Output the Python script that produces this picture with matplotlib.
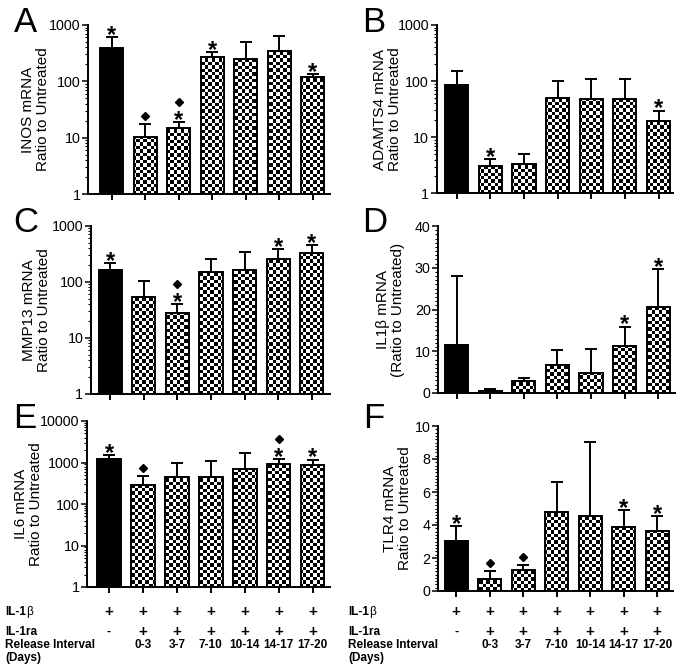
import numpy as np
import matplotlib
matplotlib.use('Agg')
import matplotlib.pyplot as plt
from matplotlib import transforms
from matplotlib.ticker import LogLocator, MultipleLocator, FuncFormatter, NullFormatter

plt.rcParams['font.family'] = ['Liberation Sans', 'DejaVu Sans']

# ---------------- data ----------------
intervals = ['', '0-3', '3-7', '7-10', '10-14', '14-17', '17-20']
il1b_row = ['+', '+', '+', '+', '+', '+', '+']
il1ra_row = ['-', '+', '+', '+', '+', '+', '+']

inos_mean = [396, 10.3, 14.6, 267, 249, 350, 121]
inos_err = [225, 7.4, 4.6, 69, 257, 297, 14]
inos_star = [1, 0, 1, 1, 0, 0, 1]
inos_diam = [0, 1, 1, 0, 0, 0, 0]

adamts4_mean = [85, 3.12, 3.34, 50.3, 47.7, 48.4, 19.8]
adamts4_err = [66, 1.0, 1.63, 50.7, 61.3, 60.6, 10.1]
adamts4_star = [0, 1, 0, 0, 0, 0, 1]
adamts4_diam = [0, 0, 0, 0, 0, 0, 0]

mmp13_mean = [161, 52.5, 27.9, 151, 161, 254, 330]
mmp13_err = [57, 48.5, 12.0, 100, 173, 124, 128]
mmp13_star = [1, 0, 1, 0, 0, 1, 1]
mmp13_diam = [0, 0, 1, 0, 0, 0, 0]

il1b_mean = [11.55, 0.56, 2.79, 6.61, 4.86, 11.3, 20.6]
il1b_err = [16.5, 0.4, 0.88, 3.6, 5.64, 4.6, 9.1]
il1b_star = [0, 0, 0, 0, 0, 1, 1]
il1b_diam = [0, 0, 0, 0, 0, 0, 0]

il6_mean = [1202, 291, 445, 445, 692, 929, 847]
il6_err = [326, 188, 519, 672, 1014, 296, 333]
il6_star = [1, 0, 0, 0, 0, 1, 1]
il6_diam = [0, 1, 0, 0, 0, 1, 0]

tlr4_mean = [3.06, 0.74, 1.27, 4.77, 4.53, 3.86, 3.62]
tlr4_err = [0.9, 0.47, 0.28, 1.81, 4.52, 1.05, 0.91]
tlr4_star = [1, 0, 0, 0, 0, 1, 1]
tlr4_diam = [0, 1, 1, 0, 0, 0, 0]

# ---------------- figure ----------------
W, H = 685, 671
fig = plt.figure(figsize=(W / 100, H / 100), dpi=100)

LW = 1.4


def add_panel(box, xlim, mean, err, star, diam, scale, ylim, ylabel,
              letter, letter_xy, label_dx):
    l, r, t, b = box
    ax = fig.add_axes([l / W, 1 - b / H, (r - l) / W, (b - t) / H])
    ax.set_yscale(scale)
    ax.set_xlim(*xlim)
    ax.set_ylim(*ylim)
    ax.set_autoscale_on(False)
    x = np.arange(len(mean))
    mean = np.asarray(mean, float)
    err = np.asarray(err, float)
    bottom = ylim[0]
    heights = mean - bottom
    width = 0.69
    face = ['black'] + ['white'] * (len(mean) - 1)
    fills = ax.bar(x, heights, width=width, bottom=bottom, color=face,
                   edgecolor='none', zorder=2)
    # checkerboard fill for the treated bars
    wpx, hpx = r - l, b - t
    nx, ny = int(round(wpx / 3.4)), int(round(hpx / 3.4))
    checker = np.add.outer(np.arange(ny), np.arange(nx)) % 2
    for i, p in enumerate(fills):
        if i == 0:
            continue
        im = ax.imshow(checker, cmap='gray', vmin=0, vmax=1,
                       extent=(0, 1, 0, 1), transform=ax.transAxes,
                       aspect='auto', interpolation='nearest', zorder=2.5)
        im.set_clip_path(p)
    ax.bar(x, heights, width=width, bottom=bottom, facecolor='none',
           edgecolor='black', linewidth=LW, zorder=4)
    ax.errorbar(x, mean, yerr=[np.zeros_like(err), err], fmt='none',
                ecolor='black', elinewidth=LW, capsize=4.2, capthick=LW,
                zorder=3)
    ax.set_xlim(*xlim)
    ax.set_ylim(*ylim)
    # significance marks
    tops = mean + err
    for i in range(len(mean)):
        off = 0
        if star[i]:
            tr = transforms.offset_copy(ax.transData, fig=fig, x=0, y=-3.5,
                                        units='points')
            ax.text(x[i], tops[i], '*', transform=tr, ha='center',
                    va='baseline', fontsize=17, fontweight='bold',
                    clip_on=False)
            off = 14.4
        if diam[i]:
            d = off if off else 5.8
            tr = transforms.offset_copy(ax.transData, fig=fig, x=0, y=d,
                                        units='points')
            ax.plot([x[i]], [tops[i]], marker='D', ms=4.2, color='black',
                    transform=tr, clip_on=False, zorder=5)
    # axes style
    for s in ['top', 'right']:
        ax.spines[s].set_visible(False)
    for s in ['left', 'bottom']:
        ax.spines[s].set_linewidth(LW)
    ax.set_xticks(x)
    ax.set_xticklabels([])
    ax.tick_params(axis='x', direction='out', length=4, width=LW)
    ax.tick_params(axis='y', which='major', direction='out', length=4,
                   width=1.1, labelsize=10.3, pad=1.5)
    ax.tick_params(axis='y', which='minor', direction='out', length=2.5,
                   width=0.8)
    if scale == 'log':
        ax.yaxis.set_major_locator(LogLocator(base=10))
        ax.yaxis.set_minor_locator(LogLocator(base=10, subs=np.arange(2, 10)))
        ax.yaxis.set_major_formatter(
            FuncFormatter(lambda v, p: f'{int(round(v))}'))
        ax.yaxis.set_minor_formatter(NullFormatter())
    ax.set_ylabel(ylabel, fontsize=11, linespacing=1.1)
    ax.yaxis.set_label_coords(-label_dx / wpx, 0.5)
    fig.text(letter_xy[0] / W, 1 - letter_xy[1] / H, letter, fontsize=25,
             ha='left', va='baseline')
    return ax


axA = add_panel((88.3, 330, 25, 194), (-0.70, 6.52), inos_mean, inos_err,
                inos_star, inos_diam, 'log', (1, 1000),
                'INOS mRNA\nRatio to Untreated', 'A', (14, 32), 38)
axB = add_panel((436.7, 673.3, 25, 193.3), (-0.595, 6.44), adamts4_mean,
                adamts4_err, adamts4_star, adamts4_diam, 'log', (1, 1000),
                'ADAMTS4 mRNA\nRatio to Untreated', 'B', (362, 32), 35)
axC = add_panel((91, 330, 225.7, 393.7), (-0.57, 6.54), mmp13_mean,
                mmp13_err, mmp13_star, mmp13_diam, 'log', (1, 1000),
                'MMP13 mRNA\nRatio to Untreated', 'C', (13, 232), 40)
axD = add_panel((438.3, 675, 226, 393), (-0.55, 6.5), il1b_mean, il1b_err,
                il1b_star, il1b_diam, 'linear', (0, 40),
                'IL1β mRNA\n(Ratio to Untreated)', 'D', (362, 232), 33)
axD.yaxis.set_major_locator(MultipleLocator(10))
axD.yaxis.set_minor_locator(MultipleLocator(1))
axE = add_panel((87.3, 330, 421, 587), (-0.64, 6.51), il6_mean, il6_err,
                il6_star, il6_diam, 'log', (1, 10000),
                'IL6 mRNA\nRatio to Untreated', 'E', (13, 428), 44)
axF = add_panel((438.3, 673.3, 426, 591), (-0.53, 6.48), tlr4_mean, tlr4_err,
                tlr4_star, tlr4_diam, 'linear', (0, 10),
                'TLR4 mRNA\nRatio to Untreated', 'F', (363, 428), 26)
axF.yaxis.set_major_locator(MultipleLocator(2))
axF.yaxis.set_minor_locator(MultipleLocator(0.2))

# ---------------- treatment table ----------------
ROW_Y = {'b': 611.7, 'ra': 631.7, 'int': 645, 'days': 658.3}
for ax, x0 in [(axE, 5), (axF, 348.3)]:
    tr = transforms.blended_transform_factory(ax.transData, fig.transFigure)
    t1 = fig.text(x0 / W, 1 - ROW_Y['b'] / H, 'IL-1', fontsize=8.5,
                  fontweight='bold', va='center', ha='left')
    ax.annotate('β', xy=(1, 0.5), xycoords=t1, fontsize=8.5, va='center',
                ha='left', annotation_clip=False)
    fig.text(x0 / W, 1 - ROW_Y['ra'] / H, 'IL-1ra', fontsize=8.5,
             fontweight='bold', va='center', ha='left')
    fig.text(x0 / W, 1 - ROW_Y['int'] / H, 'Release Interval', fontsize=8.5,
             fontweight='bold', va='center', ha='left')
    fig.text(x0 / W, 1 - ROW_Y['days'] / H, '(Days)', fontsize=8.5,
             fontweight='bold', va='center', ha='left')
    for i in range(7):
        ax.text(i, 1 - ROW_Y['b'] / H, il1b_row[i], transform=tr,
                fontsize=11, fontweight='bold', ha='center', va='center',
                clip_on=False)
        ax.text(i, 1 - ROW_Y['ra'] / H, il1ra_row[i], transform=tr,
                fontsize=11 if il1ra_row[i] == '+' else 9,
                fontweight='bold', ha='center', va='center', clip_on=False)
        ax.text(i, 1 - ROW_Y['int'] / H, intervals[i], transform=tr,
                fontsize=8.5, fontweight='bold', ha='center', va='center',
                clip_on=False)

fig.savefig('out.png', dpi=100)
